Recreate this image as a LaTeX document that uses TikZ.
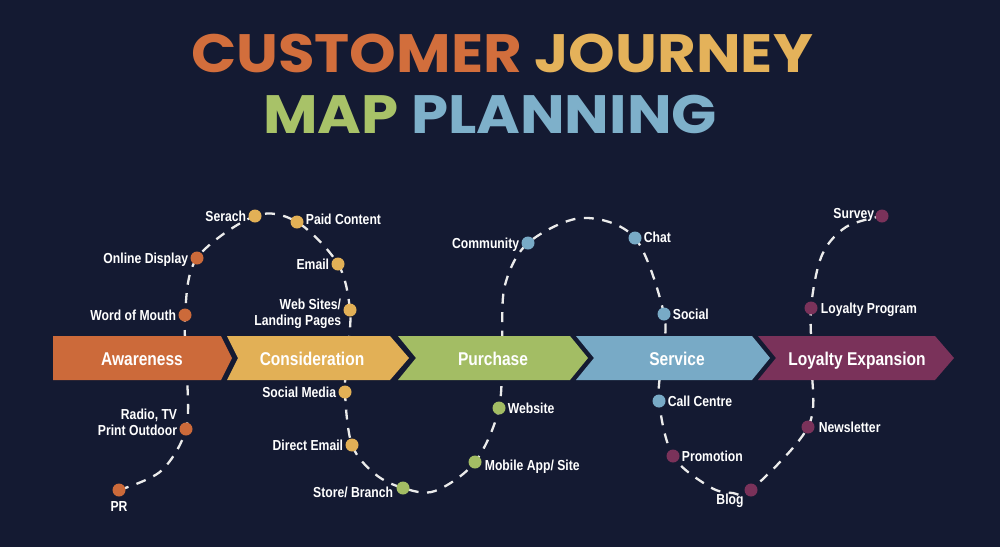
\documentclass[tikz,border=0pt]{standalone}
\usepackage{fontspec}
\usetikzlibrary{positioning,calc}
\newfontfamily\labfont{Liberation Sans}[FakeStretch=0.84]
\newfontfamily\titlefont{Poppins}[FakeStretch=1.1]
\definecolor{bg}{RGB}{20,26,50}
\definecolor{orng}{RGB}{204,106,58}
\definecolor{yel}{RGB}{226,176,86}
\definecolor{grn}{RGB}{163,189,100}
\definecolor{blu}{RGB}{120,170,198}
\definecolor{mar}{RGB}{122,50,90}
\definecolor{tOr}{RGB}{210,110,60}
\definecolor{tYe}{RGB}{228,178,90}
\definecolor{tGr}{RGB}{168,194,104}
\definecolor{tBl}{RGB}{126,176,202}
\definecolor{curvec}{RGB}{235,235,235}
\tikzset{
  dot/.style={circle,minimum size=13pt,inner sep=0pt},
  lab/.style={text=white,inner sep=0pt,text depth=0pt,font=\labfont\bfseries\fontsize{14.5}{16}\selectfont},
  stagetxt/.style={text=white,inner sep=0pt,anchor=base,font=\labfont\bfseries\fontsize{18.5}{20}\selectfont},
  path/.style={curvec,line width=2.3pt,dash pattern=on 10pt off 8.5pt},
  titletxt/.style={inner sep=0pt,anchor=base,font=\titlefont\bfseries\fontsize{54}{60}\selectfont}
}
\begin{document}
\begin{tikzpicture}[x=1pt,y=-1pt]
\fill[bg] (0,0) rectangle (1000,547);
\useasboundingbox (0,0) rectangle (1000,547);
% title
\node[titletxt] (t1) at (502,72) {\textcolor{tOr}{CUSTOMER} \textcolor{tYe}{JOURNEY}};
\node[titletxt] (t2) at (490,133) {\textcolor{tGr}{MAP} \textcolor{tBl}{PLANNING}};
% positions
\coordinate (pr) at (119,490);
\coordinate (radio) at (186,429);
\coordinate (wom) at (185,315);
\coordinate (od) at (197,258);
\coordinate (serach) at (255,216);
\coordinate (paid) at (297,222);
\coordinate (email) at (338,264);
\coordinate (web) at (350,310);
\coordinate (socm) at (345,392);
\coordinate (dmail) at (352,445);
\coordinate (store) at (403,488);
\coordinate (mobile) at (475,462);
\coordinate (website) at (499,408);
\coordinate (comm) at (528,243);
\coordinate (chat) at (635,238);
\coordinate (social) at (664,314);
\coordinate (call) at (659,401);
\coordinate (promo) at (673,456);
\coordinate (blog) at (751,490);
\coordinate (news) at (808,427);
\coordinate (loy) at (811,308);
\coordinate (survey) at (882,216);
\coordinate (m0) at (161,471);
\coordinate (m1) at (187,372);
\coordinate (m2) at (348,350);
\coordinate (m3) at (375,474);
\coordinate (m4) at (435,491);
\coordinate (m5) at (502,340);
\coordinate (m6) at (505,285);
\coordinate (m7) at (582,218);
\coordinate (m8) at (662,358);
\coordinate (m9) at (710,487);
\coordinate (m9b) at (733,493);
\coordinate (m10) at (812,368);
\coordinate (m11) at (822,255);
\coordinate (m12) at (846,227);
% journey curve
\draw[path] plot[smooth,tension=0.55] coordinates {(pr) (m0) (radio) (m1) (wom) (od) (serach) (paid) (email) (web) (m2) (socm) (dmail) (m3) (store) (m4) (mobile) (website) (m5) (m6) (comm) (m7) (chat) (social) (m8) (call) (promo) (m9) (m9b) (blog) (news) (m10) (loy) (m11) (m12) (survey)};
% stages
\fill[orng] (53,336) -- (221,336) -- (232,358) -- (221,380) -- (53,380) -- cycle;
\fill[yel] (227,336) -- (390,336) -- (409,358) -- (390,380) -- (227,380) -- (238,358) -- cycle;
\fill[grn] (398,336) -- (570,336) -- (588,358) -- (570,380) -- (398,380) -- (416,358) -- cycle;
\fill[blu] (576,336) -- (752,336) -- (770,358) -- (752,380) -- (576,380) -- (594,358) -- cycle;
\fill[mar] (758,336) -- (935,336) -- (954,358) -- (935,380) -- (758,380) -- (776,358) -- cycle;
\node[stagetxt] (s1) at (142,365) {Awareness};
\node[stagetxt] (s2) at (312,365) {Consideration};
\node[stagetxt] (s3) at (493,365) {Purchase};
\node[stagetxt] (s4) at (677,365) {Service};
\node[stagetxt] (s5) at (857,365) {Loyalty Expansion};
% dots
\node[dot,fill=orng] (dpr) at (pr) {};
\node[dot,fill=orng] (dradio) at (radio) {};
\node[dot,fill=orng] (dwom) at (wom) {};
\node[dot,fill=orng] (dod) at (od) {};
\node[dot,fill=yel] (dserach) at (serach) {};
\node[dot,fill=yel] (dpaid) at (paid) {};
\node[dot,fill=yel] (demail) at (email) {};
\node[dot,fill=yel] (dweb) at (web) {};
\node[dot,fill=yel] (dsocm) at (socm) {};
\node[dot,fill=yel] (ddmail) at (dmail) {};
\node[dot,fill=grn] (dstore) at (store) {};
\node[dot,fill=grn] (dmobile) at (mobile) {};
\node[dot,fill=grn] (dwebsite) at (website) {};
\node[dot,fill=blu] (dcomm) at (comm) {};
\node[dot,fill=blu] (dchat) at (chat) {};
\node[dot,fill=blu] (dsocial) at (social) {};
\node[dot,fill=blu] (dcall) at (call) {};
\node[dot,fill=mar] (dpromo) at (promo) {};
\node[dot,fill=mar] (dblog) at (blog) {};
\node[dot,fill=mar] (dnews) at (news) {};
\node[dot,fill=mar] (dloy) at (loy) {};
\node[dot,fill=mar] (dsurvey) at (survey) {};
% labels
\node[lab,below=5pt of dpr] (lpr) {PR};
\node[lab,align=right,left=2pt of dradio,yshift=7pt] (lradio) {Radio, TV\\Print Outdoor};
\node[lab,left=2pt of dwom] (lwom) {Word of Mouth};
\node[lab,left=2pt of dod] (lod) {Online Display};
\node[lab,left=2pt of dserach] (lserach) {Serach};
\node[lab,right=2pt of dpaid,yshift=3pt] (lpaid) {Paid Content};
\node[lab,left=2pt of demail] (lemail) {Email};
\node[lab,align=right,left=2pt of dweb,yshift=-2pt] (lweb) {Web Sites/\\Landing Pages};
\node[lab,left=2pt of dsocm] (lsocm) {Social Media};
\node[lab,left=2pt of ddmail] (ldmail) {Direct Email};
\node[lab,left=3pt of dstore,yshift=-4pt] (lstore) {Store/ Branch};
\node[lab,right=3pt of dmobile,yshift=-3pt] (lmobile) {Mobile App/ Site};
\node[lab,right=2pt of dwebsite] (lwebsite) {Website};
\node[lab,left=2pt of dcomm] (lcomm) {Community};
\node[lab,right=2pt of dchat,yshift=1pt] (lchat) {Chat};
\node[lab,right=2pt of dsocial] (lsocial) {Social};
\node[lab,right=2pt of dcall] (lcall) {Call Centre};
\node[lab,right=2pt of dpromo] (lpromo) {Promotion};
\node[lab] (lblog) at ($(blog)+(-21,9)$) {Blog};
\node[lab,right=4pt of dnews] (lnews) {Newsletter};
\node[lab,right=3pt of dloy] (lloy) {Loyalty Program};
\node[lab,left=1pt of dsurvey,yshift=3pt] (lsurvey) {Survey};
\end{tikzpicture}
\end{document}
